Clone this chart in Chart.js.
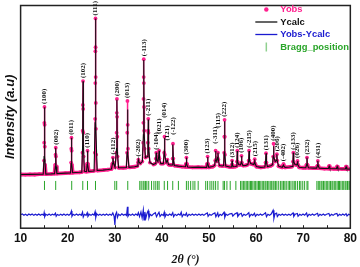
<!DOCTYPE html>
<html>
<head>
<meta charset="utf-8">
<script src="https://cdn.jsdelivr.net/npm/chart.js@4.4.0/dist/chart.umd.min.js"></script>
<style>
  html, body { margin: 0; padding: 0; background: #fff; }
  #wrap { width: 360px; height: 267px; }
</style>
</head>
<body>
<div id="wrap"><canvas id="xrd"></canvas></div>
<script>
// Rietveld plot (2theta in degrees, intensity in counts)
const xTicks = [10, 20, 30, 40, 50, 60, 70, 80];

// observed points [2theta, counts]
const yObs = [
  [10,400],[11,395],[12,410],[13,400],[14,415],[14.8,420],
  [14.97,1100],[15.01,2000],[15.04,3000],[15.07,3800],[15.1,2900],[15.13,1800],[15.17,900],[15.35,420],
  [16.5,430],[17.2,440],[17.37,900],[17.42,1400],[17.46,1750],[17.5,1300],[17.55,800],[17.7,445],
  [19.5,470],[20.6,480],[20.72,1000],[20.76,1700],[20.8,2250],[20.84,1600],[20.89,900],[21.05,490],
  [22.5,510],[23.0,520],[23.14,1500],[23.18,2600],[23.22,3900],[23.25,5100],[23.28,3700],[23.32,2500],[23.37,1300],[23.55,560],
  [24.0,545],[24.13,950],[24.2,1600],[24.27,950],[24.45,560],
  [25.6,580],[25.78,1500],[25.83,3200],[25.86,5000],[25.88,6600],[25.9,8250],[25.92,6800],[25.94,5300],[25.96,4000],[25.99,2700],[26.04,1400],[26.25,600],
  [27.5,620],[28.5,650],[29.3,680],[29.5,950],[29.6,1250],[29.7,1000],
  [30.05,760],[30.33,1500],[30.38,2500],[30.42,3500],[30.45,4200],[30.48,3300],[30.52,2300],[30.58,1300],[30.8,740],
  [31.8,740],[32.45,750],[32.6,1500],[32.64,2500],[32.68,4100],[32.73,2900],[32.78,1700],[33.0,760],
  [34.2,790],[34.75,820],[34.92,1000],[35.0,1150],[35.08,1050],[35.4,950],
  [35.85,1050],[36.03,2000],[36.07,3000],[36.1,4200],[36.13,5300],[36.15,6200],[36.17,5000],[36.2,3800],[36.24,2600],[36.3,1700],[36.5,1250],
  [36.9,1300],[37.02,2000],[37.06,2600],[37.1,3200],[37.14,2500],[37.19,1700],[37.45,1000],
  [38.2,900],[38.6,950],[38.72,1200],[38.8,1500],[38.9,1150],
  [39.15,1050],[39.32,1300],[39.4,1600],[39.48,1200],[39.75,950],
  [40.3,950],[40.48,1500],[40.55,2300],[40.62,1400],[40.9,1000],[41.15,1150],[41.4,900],
  [41.8,880],[42.15,880],[42.28,1200],[42.35,1950],[42.42,1200],[42.65,850],
  [43.5,820],[44.3,800],[45.0,790],[45.12,950],[45.2,1250],[45.28,950],[45.45,780],
  [46.5,760],[47.7,770],[48.5,760],[49.5,760],[49.62,950],[49.7,1300],[49.78,950],[49.95,760],
  [50.8,800],[51.2,860],[51.32,1100],[51.4,1600],[51.48,1150],[51.65,1050],[51.8,1250],[51.9,1500],[51.98,1150],[52.2,850],
  [52.8,830],[53.1,850],[53.22,1500],[53.26,2300],[53.3,3150],[53.34,2300],[53.39,1400],[53.55,820],
  [54.4,780],[54.75,780],[54.84,900],[54.9,1100],[54.97,900],[55.15,790],
  [55.6,800],[55.85,820],[55.93,1050],[56.0,1600],[56.07,1050],[56.3,900],
  [56.7,880],[56.82,1000],[56.9,1340],[56.98,1000],[57.2,850],
  [57.8,860],[58.25,900],[58.42,1100],[58.5,1600],[58.58,1100],[58.85,950],
  [59.5,900],[59.62,1000],[59.7,1170],[59.78,950],[60.05,800],
  [61.0,760],[61.85,780],[62.0,1000],[62.1,1470],[62.2,1000],[62.4,800],
  [63.1,840],[63.5,900],[63.62,1300],[63.7,1950],[63.78,1300],[64.05,1050],
  [64.28,1100],[64.4,1420],[64.48,1100],[64.75,820],
  [65.55,760],[65.72,840],[65.8,915],[65.88,830],[66.15,760],
  [67.1,780],[67.65,800],[67.82,1050],[67.9,1500],[67.98,1050],[68.25,900],
  [68.62,880],[68.73,950],[68.8,1085],[68.88,900],[69.15,760],
  [70.0,740],[70.55,740],[70.72,900],[70.8,1250],[70.88,900],[71.1,740],
  [72.2,720],[72.85,720],[73.02,850],[73.1,1085],[73.18,850],[73.4,720],
  [74.5,700],[75.35,700],[75.5,820],[75.65,700],[76.5,690],
  [77.05,690],[77.2,800],[77.35,690],[78.3,680],[78.95,680],[79.1,790],[79.25,680],[80,670]
];

// calculated profile [2theta, counts]
const yCalc = [
  [10,400],[12,405],[14,410],
  [14.8,415],[14.99,1300],[15.07,3785],[15.15,1300],[15.35,420],[16.5,430],
  [17.2,440],[17.38,800],[17.45,1750],[17.52,800],[17.7,445],[19.5,470],
  [20.6,480],[20.73,950],[20.8,2250],[20.87,950],[21.05,490],[22.5,510],
  [23.0,520],[23.17,1900],[23.25,5085],[23.33,1900],[23.55,560],
  [24.0,545],[24.13,900],[24.2,1600],[24.27,900],[24.45,560],
  [25.6,580],[25.82,3000],[25.9,8250],[25.98,3000],[26.25,600],[27.5,620],[28.5,650],
  [29.3,680],[29.5,950],[29.6,1250],[29.7,1000],
  [30.05,760],[30.37,1700],[30.45,4165],[30.53,1600],[30.8,740],[31.8,740],
  [32.45,750],[32.62,1500],[32.7,3665],[32.78,1500],[33.0,760],[34.2,790],
  [34.75,820],[34.92,1000],[35.0,1150],[35.08,1050],[35.4,950],
  [35.85,1050],[36.07,2400],[36.15,6165],[36.23,2500],[36.5,1250],
  [36.9,1300],[37.03,1800],[37.1,3165],[37.17,1800],[37.45,1000],[38.2,900],
  [38.6,950],[38.72,1200],[38.8,1500],[38.9,1150],
  [39.15,1050],[39.32,1300],[39.4,1600],[39.48,1200],[39.75,950],
  [40.3,950],[40.48,1500],[40.55,2250],[40.62,1400],[40.9,1000],[41.15,1120],[41.4,900],[41.8,880],
  [42.15,880],[42.28,1200],[42.35,1915],[42.42,1200],[42.65,850],[43.5,820],[44.3,800],
  [45.0,790],[45.12,950],[45.2,1250],[45.28,950],[45.45,780],[46.5,760],[47.7,770],[48.5,760],
  [49.5,760],[49.62,950],[49.7,1285],[49.78,950],[49.95,760],[50.8,800],
  [51.2,860],[51.32,1100],[51.4,1585],[51.48,1150],[51.65,1050],[51.8,1250],[51.9,1500],[51.98,1150],[52.2,850],[52.8,830],
  [53.1,850],[53.23,1500],[53.3,3085],[53.37,1500],[53.55,820],[54.4,780],
  [54.75,780],[54.84,900],[54.9,1100],[54.97,900],[55.15,790],[55.6,800],
  [55.85,820],[55.93,1050],[56.0,1585],[56.07,1050],[56.3,900],
  [56.7,880],[56.82,1000],[56.9,1335],[56.98,1000],[57.2,850],[57.8,860],
  [58.25,900],[58.42,1100],[58.5,1585],[58.58,1100],[58.85,950],
  [59.5,900],[59.62,1000],[59.7,1165],[59.78,950],[60.05,800],[61.0,760],
  [61.85,780],[62.0,1000],[62.1,1465],[62.2,1000],[62.4,800],[63.1,840],
  [63.5,900],[63.62,1300],[63.7,1820],[63.78,1300],[64.05,1050],
  [64.28,1100],[64.4,1415],[64.48,1100],[64.75,820],
  [65.55,760],[65.72,840],[65.8,915],[65.88,830],[66.15,760],[67.1,780],
  [67.65,800],[67.82,1050],[67.9,1500],[67.98,1050],[68.25,900],
  [68.62,880],[68.73,950],[68.8,1085],[68.88,900],[69.15,760],[70.0,740],
  [70.55,740],[70.72,900],[70.8,1250],[70.88,900],[71.1,740],[72.2,720],
  [72.85,720],[73.02,850],[73.1,1085],[73.18,850],[73.4,720],[74.5,700],
  [75.35,700],[75.5,820],[75.65,700],[76.5,690],[77.05,690],[77.2,800],[77.35,690],
  [78.3,680],[78.95,680],[79.1,790],[79.25,680],[80,670]
];

// difference curve (shifted below the pattern)
const yDiff = [
  [10,-1620],[10.35,-1580],[10.7,-1650],[11.05,-1600],[11.4,-1660],[11.75,-1590],[12.1,-1640],[12.45,-1590],[12.8,-1655],[13.15,-1600],
  [13.5,-1650],[13.85,-1585],[14.2,-1645],[14.55,-1600],[14.9,-1650],[15.0,-1520],[15.12,-1720],[15.35,-1600],[15.7,-1650],[16.05,-1590],
  [16.4,-1655],[16.75,-1600],[17.1,-1640],[17.4,-1540],[17.55,-1700],[17.8,-1610],[18.15,-1655],[18.5,-1595],[18.85,-1650],[19.2,-1590],
  [19.55,-1655],[19.9,-1600],[20.25,-1645],[20.55,-1590],[20.78,-1440],[20.9,-1700],[21.15,-1600],[21.5,-1655],[21.85,-1590],[22.2,-1650],
  [22.55,-1600],[22.9,-1650],[23.15,-1490],[23.3,-1740],[23.55,-1600],[23.9,-1650],[24.15,-1520],[24.3,-1700],[24.6,-1600],[24.95,-1655],
  [25.3,-1590],[25.6,-1650],[25.82,-1470],[25.96,-1760],[26.15,-1580],[26.5,-1650],[26.85,-1595],[27.2,-1655],[27.55,-1600],[27.9,-1650],
  [28.25,-1590],[28.6,-1655],[28.95,-1600],[29.3,-1650],[29.58,-1530],[29.85,-1700],[30.02,-2140],[30.15,-1620],[30.38,-1500],[30.55,-1760],
  [30.8,-1600],[31.15,-1660],[31.5,-1580],[31.85,-1650],[32.2,-1600],[32.5,-1660],[32.68,-1220],[32.8,-1700],[33.05,-1600],[33.4,-1655],
  [33.75,-1585],[34.1,-1660],[34.45,-1590],[34.8,-1650],[35.0,-1520],[35.25,-1720],[35.55,-1480],[35.8,-1780],[36.05,-1380],[36.2,-1880],
  [36.38,-1480],[36.6,-1790],[36.85,-1540],[37.08,-1420],[37.25,-1780],[37.5,-1600],[37.85,-1670],[38.2,-1580],[38.6,-1520],[38.85,-1720],
  [39.15,-1590],[39.38,-1500],[39.6,-1710],[39.95,-1600],[40.3,-1660],[40.5,-1500],[40.65,-1740],[40.95,-1600],[41.3,-1660],[41.65,-1590],
  [42.0,-1650],[42.3,-1520],[42.48,-1720],[42.8,-1600],[43.15,-1660],[43.5,-1590],[43.85,-1640],[44.1,-1500],[44.3,-1720],[44.6,-1600],
  [44.95,-1655],[45.2,-1540],[45.4,-1700],[45.75,-1600],[46.1,-1655],[46.45,-1590],[46.8,-1650],[47.15,-1600],[47.5,-1655],[47.85,-1590],
  [48.2,-1650],[48.55,-1600],[48.9,-1655],[49.25,-1590],[49.65,-1530],[49.8,-1700],[50.1,-1600],[50.45,-1655],[50.8,-1590],[51.25,-1530],
  [51.45,-1720],[51.85,-1530],[52.0,-1710],[52.35,-1600],[52.7,-1660],[53.2,-1500],[53.35,-1750],[53.6,-1600],[53.95,-1655],[54.3,-1590],
  [54.85,-1560],[55.05,-1690],[55.4,-1600],[55.95,-1520],[56.1,-1710],[56.45,-1600],[56.85,-1550],[57.05,-1700],[57.4,-1600],[57.75,-1655],
  [58.1,-1595],[58.45,-1520],[58.6,-1720],[58.95,-1600],[59.3,-1655],[59.65,-1550],[59.85,-1700],[60.2,-1600],[60.55,-1655],[60.9,-1590],
  [61.25,-1650],[61.6,-1600],[62.0,-1530],[62.2,-1720],[62.5,-1600],[62.85,-1655],[63.2,-1590],[63.6,-1400],[63.78,-1800],[64.0,-1580],
  [64.35,-1540],[64.5,-1710],[64.85,-1600],[65.2,-1655],[65.55,-1590],[65.9,-1650],[66.25,-1595],[66.6,-1655],[66.95,-1600],[67.3,-1650],
  [67.85,-1530],[68.0,-1710],[68.3,-1600],[68.75,-1560],[68.9,-1700],[69.25,-1600],[69.6,-1655],[69.95,-1590],[70.3,-1650],[70.72,-1540],
  [70.9,-1710],[71.25,-1600],[71.6,-1655],[71.95,-1590],[72.3,-1650],[72.65,-1600],[73.05,-1550],[73.2,-1690],[73.55,-1600],[73.9,-1655],
  [74.25,-1590],[74.6,-1650],[74.95,-1600],[75.45,-1560],[75.65,-1680],[76.0,-1600],[76.35,-1655],[76.7,-1590],[77.15,-1560],[77.35,-1680],
  [77.7,-1600],[78.05,-1655],[78.4,-1590],[78.75,-1650],[79.1,-1570],[79.3,-1680],[79.65,-1600],[80,-1640]
];

// Bragg reflection positions (2theta)
const braggPos = [
  15.07, 17.45, 20.85, 23.2, 24.2, 25.9, 30.0, 30.4, 32.75,
  35.3, 35.6, 36.0, 36.2, 36.5, 36.8, 37.2, 37.8, 38.3, 38.7, 39.1, 39.4, 40.5, 41.2, 42.3, 43.5,
  45.2, 45.6, 46.1, 46.6, 47.0, 47.7, 49.3, 49.7, 50.2, 50.6, 51.0, 51.4, 51.9, 53.0, 53.3, 53.8, 54.5, 55.7,
  56.7, 57.0, 57.3, 57.6, 57.9, 58.2, 58.5, 58.8, 59.0, 59.3, 59.6, 59.9, 60.2, 60.5, 60.7, 61.0, 61.3,
  61.6, 61.9, 62.1, 62.4, 62.7, 63.0, 63.3, 63.6, 63.8, 64.1, 64.4, 64.8, 65.2, 65.5, 65.8, 66.1, 66.4,
  66.8, 67.1, 67.4, 67.8, 68.1, 68.4, 68.8, 69.2, 69.5, 69.9, 70.3, 70.8, 71.0,
  72.9, 73.2, 73.5, 73.8, 74.0, 74.3, 74.6, 74.9, 75.2, 75.5, 75.8, 76.1, 76.3, 76.6, 76.9, 77.2,
  77.5, 77.7, 78.0, 78.3, 78.6, 78.9, 79.1, 79.4, 79.7, 79.9
];
const braggLevel = -150;

// indexed peaks
const peakPos = [15.07, 17.45, 20.8, 23.25, 24.2, 25.9, 29.6, 30.45, 32.7, 35.0, 36.15, 37.1, 38.8, 39.4,
  40.55, 41.15, 42.35, 45.2, 49.7, 51.4, 51.9, 53.3, 54.9, 56.0, 56.9, 58.5, 59.7, 62.1, 63.7, 64.4,
  65.8, 67.9, 68.8, 70.8, 73.1];
const peakTop = [3800, 1750, 2250, 5100, 1600, 8250, 1250, 4200, 4100, 1150, 6200, 3200, 1500, 1600,
  2300, 1150, 1950, 1250, 1300, 1600, 1500, 3150, 1100, 1600, 1340, 1600, 1170, 1470, 1950, 1420,
  915, 1500, 1085, 1250, 1085];
const peakHkl = ['(100)', '(002)', '(011)', '(102)', '(110)', '(111)', '(-112)', '(200)', '(013)', '(-202)',
  '(-113)', '(-211)', '(-104)', '(021)', '(014)', '(121)', '(-122)', '(300)', '(123)', '(-311)', '(115)',
  '(222)', '(312)', '(124)', '(106)', '(-215)', '(215)', '(131)', '(400)', '(206)', '(-402)', '(-133)',
  '(026)', '(232)', '(431)'];

const PINK = '#ff1f8e', BLUE = '#1a1ad0', GREEN = '#2aa52a';
const toXY = arr => arr.map(p => ({ x: p[0], y: p[1] }));

// label lifts (px) where labels are stacked above a neighbour
const labelLift = { '(021)': 14, '(014)': 16, '(121)': 16, '(-122)': 6, '(115)': 22, '(-311)': 4 };

const decor = {
  id: 'decor',
  afterDraw(chart) {
    const { ctx, chartArea: a, scales: { x, y } } = chart;
    ctx.save();
    // frame
    ctx.strokeStyle = '#222';
    ctx.lineWidth = 1.5;
    ctx.strokeRect(a.left, a.top, a.right - a.left, a.bottom - a.top);
    // inner minor ticks
    ctx.lineWidth = 1;
    for (let v = 15; v < 80; v += 5) {
      const px = Math.round(x.getPixelForValue(v)) + 0.5;
      ctx.beginPath(); ctx.moveTo(px, a.bottom); ctx.lineTo(px, a.bottom - 3); ctx.stroke();
    }
    // hkl labels
    ctx.fillStyle = '#111';
    ctx.font = 'bold 7px "Liberation Serif"';
    ctx.textBaseline = 'middle';
    ctx.textAlign = 'left';
    peakHkl.forEach((h, i) => {
      const px = x.getPixelForValue(peakPos[i]);
      const py = y.getPixelForValue(peakTop[i]) - 3 - (labelLift[h] || 0);
      ctx.save(); ctx.translate(px, py); ctx.rotate(-Math.PI / 2); ctx.fillText(h, 0, 0); ctx.restore();
    });
    // legend
    const lx = a.right - 70;
    const rows = [['Yobs', PINK], ['Ycalc', '#111'], ['Yobs-Ycalc', BLUE], ['Bragg_position', GREEN]];
    ctx.font = 'bold 9.4px "Liberation Sans"';
    rows.forEach((r, i) => {
      const ry = a.top + 4 + i * 12.5;
      ctx.fillStyle = r[1];
      ctx.fillText(r[0], lx, ry);
      ctx.strokeStyle = r[1];
      if (i === 0) { ctx.beginPath(); ctx.arc(lx - 14, ry, 2.2, 0, Math.PI * 2); ctx.fill(); }
      else if (i === 3) { ctx.strokeStyle = '#8fd08f'; ctx.lineWidth = 1.5; ctx.beginPath(); ctx.moveTo(lx - 14, ry - 4.5); ctx.lineTo(lx - 14, ry + 4.5); ctx.stroke(); }
      else { ctx.lineWidth = 1.3; ctx.beginPath(); ctx.moveTo(lx - 25, ry); ctx.lineTo(lx - 3, ry); ctx.stroke(); }
    });
    ctx.restore();
  }
};

// thick band along the noisy background, thin line up the peak flanks
const obsWidth = c => (c.p0.parsed.y < 1000 && c.p1.parsed.y < 1000 ? 3.8 : 1.5);

new Chart(document.getElementById('xrd'), {
  type: 'scatter',
  data: {
    datasets: [
      { label: 'Ycalc', data: toXY(yCalc), showLine: true, borderColor: '#111', borderWidth: 1.1, pointRadius: 0, order: 0 },
      { label: 'Yobs', data: toXY(yObs), showLine: true, borderColor: PINK, borderWidth: 1.5, pointRadius: 1.9,
        pointBackgroundColor: PINK, pointBorderWidth: 0, borderJoinStyle: 'round', segment: { borderWidth: obsWidth }, order: 1 },
      { label: 'Yobs-Ycalc', data: toXY(yDiff), showLine: true, borderColor: BLUE, borderWidth: 1.2, pointRadius: 0, order: 2 },
      { label: 'Bragg_position', data: braggPos.map(v => ({ x: v, y: braggLevel })), pointStyle: 'line', rotation: 90,
        pointRadius: 4.5, borderColor: GREEN, borderWidth: 1, order: 3 }
    ]
  },
  options: {
    responsive: true,
    maintainAspectRatio: false,
    animation: false,
    layout: { padding: { left: 1, right: 8, top: 2, bottom: 0 } },
    plugins: { legend: { display: false }, tooltip: { enabled: false } },
    scales: {
      x: {
        type: 'linear', min: 10, max: 80,
        grid: { display: false, drawTicks: false },
        border: { display: false },
        afterBuildTicks: s => { s.ticks = xTicks.map(v => ({ value: v })); },
        ticks: { color: '#111', padding: 3, font: { family: 'Liberation Sans', size: 12, weight: 'bold' } },
        title: { display: true, text: '2θ (°)', color: '#111', padding: { top: 4, bottom: 0 },
          font: { family: 'Liberation Serif', size: 12, weight: 'bold', style: 'italic' } }
      },
      y: {
        min: -2300, max: 8900,
        grid: { display: false, drawTicks: false },
        border: { display: false },
        ticks: { display: false },
        title: { display: true, text: 'Intensity (a.u)', color: '#111', padding: { top: 2, bottom: 2 },
          font: { family: 'Liberation Sans', size: 13, weight: 'bold', style: 'italic' } }
      }
    }
  },
  plugins: [decor]
});
</script>
</body>
</html>
